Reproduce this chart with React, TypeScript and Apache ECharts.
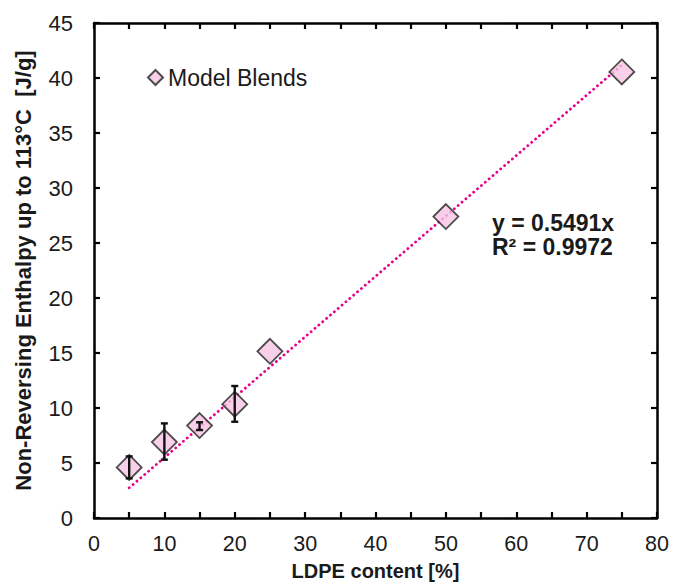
import React, { useEffect, useRef } from "react";
import * as echarts from "echarts";

const ldpeContent = [5, 10, 15, 20, 25, 50, 75];
const enthalpy = [4.6, 6.9, 8.4, 10.35, 15.15, 27.4, 40.55];
const errLow = [3.6, 5.3, 8.0, 8.75, 15.15, 27.4, 40.55];
const errHigh = [5.6, 8.6, 8.7, 12.0, 15.15, 27.4, 40.55];
const trendSlope = 0.5491;
const trendRange = [5, 75];
const xTicks = [0, 10, 20, 30, 40, 50, 60, 70, 80];
const yTicks = [0, 5, 10, 15, 20, 25, 30, 35, 40, 45];

const FONT = "'Liberation Sans', Arial, sans-serif";

const mkLine = () => ({ show: true, onZero: false, lineStyle: { color: "#000", width: 2.5 } });
const mkTick = () => ({ show: true, inside: true, length: 6, lineStyle: { color: "#000", width: 2.2 } });

export default function App() {
  const ref = useRef<HTMLDivElement>(null);
  useEffect(() => {
    if (!ref.current) return;
    const chart = echarts.init(ref.current, null, { renderer: "svg" });
    const scatterData = ldpeContent.map((x, i) => [x, enthalpy[i]]);
    const errData = ldpeContent
      .map((x, i) => [x, errLow[i], errHigh[i]])
      .filter((d) => d[2] - d[1] > 0.01);
    const trendData = trendRange.map((x) => [x, trendSlope * x]);
    chart.setOption({
      animation: false,
      grid: { left: 94, right: 16, top: 23, bottom: 69 },
      legend: {
        data: ["Model Blends"],
        left: 142,
        top: 61,
        itemWidth: 15,
        itemHeight: 15,
        textStyle: { fontFamily: FONT, fontSize: 23, color: "#1a1a1a" },
      },
      xAxis: [
        {
          type: "value",
          min: 0,
          max: 80,
          interval: 5,
          axisLine: mkLine(),
          axisTick: mkTick(),
          splitLine: { show: false },
          axisLabel: {
            fontFamily: FONT,
            fontSize: 21.5,
            color: "#1a1a1a",
            margin: 15,
            showMinLabel: true,
            showMaxLabel: true,
            formatter: (v: number) => (xTicks.includes(v) ? String(v) : ""),
          },
          name: "LDPE content [%]",
          nameLocation: "middle",
          nameGap: 43,
          nameTextStyle: { fontFamily: FONT, fontSize: 20, fontWeight: "bold", color: "#1a1a1a" },
        },
        {
          type: "value",
          position: "top",
          min: 0,
          max: 80,
          interval: 5,
          axisLine: mkLine(),
          axisTick: mkTick(),
          axisLabel: { show: false },
          splitLine: { show: false },
        },
      ],
      yAxis: [
        {
          type: "value",
          min: 0,
          max: 45,
          interval: 5,
          axisLine: mkLine(),
          axisTick: mkTick(),
          splitLine: { show: false },
          axisLabel: {
            fontFamily: FONT,
            fontSize: 22,
            color: "#1a1a1a",
            margin: 21,
            formatter: (v: number) => (yTicks.includes(v) ? String(v) : ""),
          },
          name: "Non-Reversing Enthalpy up to 113°C  [J/g]",
          nameLocation: "middle",
          nameGap: 60,
          nameTextStyle: { fontFamily: FONT, fontSize: 22, fontWeight: "bold", color: "#1a1a1a" },
        },
        {
          type: "value",
          position: "right",
          min: 0,
          max: 45,
          interval: 5,
          axisLine: mkLine(),
          axisTick: mkTick(),
          axisLabel: { show: false },
          splitLine: { show: false },
        },
      ],
      series: [
        {
          name: "trend",
          type: "line",
          data: trendData,
          symbol: "none",
          z: 1,
          lineStyle: { color: "#e8008a", width: 2.8, type: [0.1, 5], cap: "round" },
        },
        {
          name: "Model Blends",
          type: "scatter",
          data: scatterData,
          symbol: "diamond",
          symbolSize: 25,
          z: 2,
          itemStyle: { color: "#f7c4e3", borderColor: "#222", borderWidth: 1.8 },
        },
        {
          name: "err",
          type: "custom",
          data: errData,
          z: 3,
          renderItem: (params: any, api: any) => {
            const x = api.value(0);
            const lo = api.coord([x, api.value(1)]);
            const hi = api.coord([x, api.value(2)]);
            const w = 3.5;
            const style = { stroke: "#111", lineWidth: 2.4 };
            return {
              type: "group",
              children: [
                { type: "line", shape: { x1: lo[0], y1: lo[1], x2: hi[0], y2: hi[1] }, style },
                { type: "line", shape: { x1: lo[0] - w, y1: lo[1], x2: lo[0] + w, y2: lo[1] }, style },
                { type: "line", shape: { x1: hi[0] - w, y1: hi[1], x2: hi[0] + w, y2: hi[1] }, style },
              ],
            };
          },
        },
      ],
      graphic: [
        {
          type: "text",
          left: 492,
          top: 211,
          style: {
            text: "y = 0.5491x\nR² = 0.9972",
            fontFamily: FONT,
            fontSize: 23,
            fontWeight: "bold",
            fill: "#1a1a1a",
            lineHeight: 24,
          },
        },
      ],
    });
    return () => chart.dispose();
  }, []);
  return (
    <div
      ref={ref}
      style={{ position: "absolute", left: 0, top: 0, width: 673, height: 587, overflow: "hidden" }}
    />
  );
}
